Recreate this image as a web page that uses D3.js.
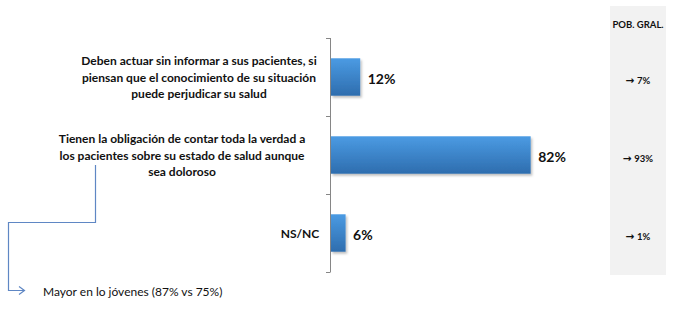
<!DOCTYPE html>
<html><head><meta charset="utf-8">
<script src="https://cdn.jsdelivr.net/npm/d3@7"></script>
<style>
body{margin:0;background:#fff;}
svg{display:block;}
</style></head>
<body>
<script>
const categories = ["c1","c2","c3"];
const categoryLines = [
  ["Deben actuar sin informar a sus pacientes, si","piensan que el conocimiento de su situación","puede perjudicar su salud"],
  ["Tienen la obligación de contar toda la verdad a","los pacientes sobre su estado de salud aunque","sea doloroso"],
  ["NS/NC"]
];
const values = [12, 82, 6];
const popGralTitle = "POB. GRAL.";
const popGralValues = [7, 93, 1];
const noteText = "Mayor en lo jóvenes (87% vs 75%)";

const W = 683, H = 315;
const svg = d3.select("body").append("svg").attr("width", W).attr("height", H);
const defs = svg.append("defs");
const grad = defs.append("linearGradient").attr("id","barGrad").attr("x1",0).attr("y1",0).attr("x2",0).attr("y2",1);
grad.append("stop").attr("offset","0%").attr("stop-color","#4b9be3");
grad.append("stop").attr("offset","100%").attr("stop-color","#2e6dae");
const f = defs.append("filter").attr("id","shadow").attr("x","-10%").attr("y","-10%").attr("width","130%").attr("height","140%");
f.append("feDropShadow").attr("dx",1.5).attr("dy",2).attr("stdDeviation",1.2).attr("flood-color","#000").attr("flood-opacity",0.25);

const x = d3.scaleLinear().domain([0,100]).range([330.5, 574]);
const y = d3.scaleBand().domain(categories).range([38,272]).paddingInner(0.52).paddingOuter(0.26);

// right panel
svg.append("rect").attr("x",610).attr("y",6).attr("width",56).attr("height",269).attr("fill","#f2f2f2");
svg.append("text").attr("x",638).attr("y",24).attr("text-anchor","middle").attr("dominant-baseline","central")
  .attr("font-family","Lato, 'Open Sans', sans-serif").attr("font-weight","bold").attr("font-size",9.5).attr("fill","#111")
  .text(popGralTitle);
const pg = svg.selectAll(".pg").data(popGralValues).join("text").attr("class","pg")
  .attr("x",638).attr("y",(d,i)=>y(categories[i])+y.bandwidth()/2+3)
  .attr("text-anchor","middle").attr("dominant-baseline","central")
  .attr("font-family","Lato, 'Open Sans', sans-serif").attr("font-weight","bold").attr("font-size",9.5).attr("fill","#111");
pg.append("tspan").attr("font-family","'DejaVu Sans', sans-serif").attr("font-weight","bold").attr("font-size",10.5).text("→");
pg.append("tspan").text(d=>" "+d+"%");

// axis
const step = y.step();
const boundaries = [y.range()[0]].concat(categories.map(c=>y(c)+y.bandwidth()/2+step/2));
const ax = svg.append("g");
ax.append("line").attr("x1",330.5).attr("x2",330.5).attr("y1",boundaries[0]).attr("y2",boundaries[boundaries.length-1]).attr("stroke","#868686");
ax.selectAll(".tk").data(boundaries).join("line").attr("class","tk")
  .attr("x1",326).attr("x2",330.5).attr("y1",d=>Math.round(d)+0.5).attr("y2",d=>Math.round(d)+0.5).attr("stroke","#868686");

// bars
svg.selectAll(".bar").data(values).join("rect").attr("class","bar")
  .attr("x",x(0)+0.5).attr("y",(d,i)=>y(categories[i]))
  .attr("width",d=>x(d)-x(0)).attr("height",y.bandwidth())
  .attr("fill","url(#barGrad)").attr("filter","url(#shadow)");

svg.selectAll(".val").data(values).join("text").attr("class","val")
  .attr("x",d=>x(d)+8).attr("y",(d,i)=>y(categories[i])+y.bandwidth()/2+1)
  .attr("dominant-baseline","central")
  .attr("font-family","Lato, 'Open Sans', sans-serif").attr("font-weight","bold").attr("font-size",14).attr("fill","#111")
  .text(d=>d+"%");

// category labels
const labelCx = [199, 182, 300];
const lineH = 16.5;
categoryLines.forEach((lines,i)=>{
  const cy = y(categories[i]) + y.bandwidth()/2;
  const t = svg.append("text").attr("text-anchor","middle")
    .attr("font-family","Lato, 'Open Sans', sans-serif").attr("font-weight","bold").attr("font-size",12).attr("fill","#111");
  lines.forEach((ln,j)=>{
    t.append("tspan").attr("x",labelCx[i]).attr("y",cy + (j-(lines.length-1)/2)*lineH).attr("dominant-baseline","central").text(ln);
  });
});

// annotation connector
const blue = "#5f87c4";
svg.append("path").attr("d","M95.5,165 V222.5 H8.5 V290.5 H24").attr("fill","none").attr("stroke",blue).attr("stroke-width",1.2);
svg.append("path").attr("d","M19,286.5 L24.5,290.5 L19,294.5").attr("fill","none").attr("stroke",blue).attr("stroke-width",1.2);
svg.append("text").attr("x",43).attr("y",291).attr("dominant-baseline","central")
  .attr("font-family","Lato, 'Open Sans', sans-serif").attr("font-size",12).attr("fill","#111").text(noteText);
</script>
</body></html>
